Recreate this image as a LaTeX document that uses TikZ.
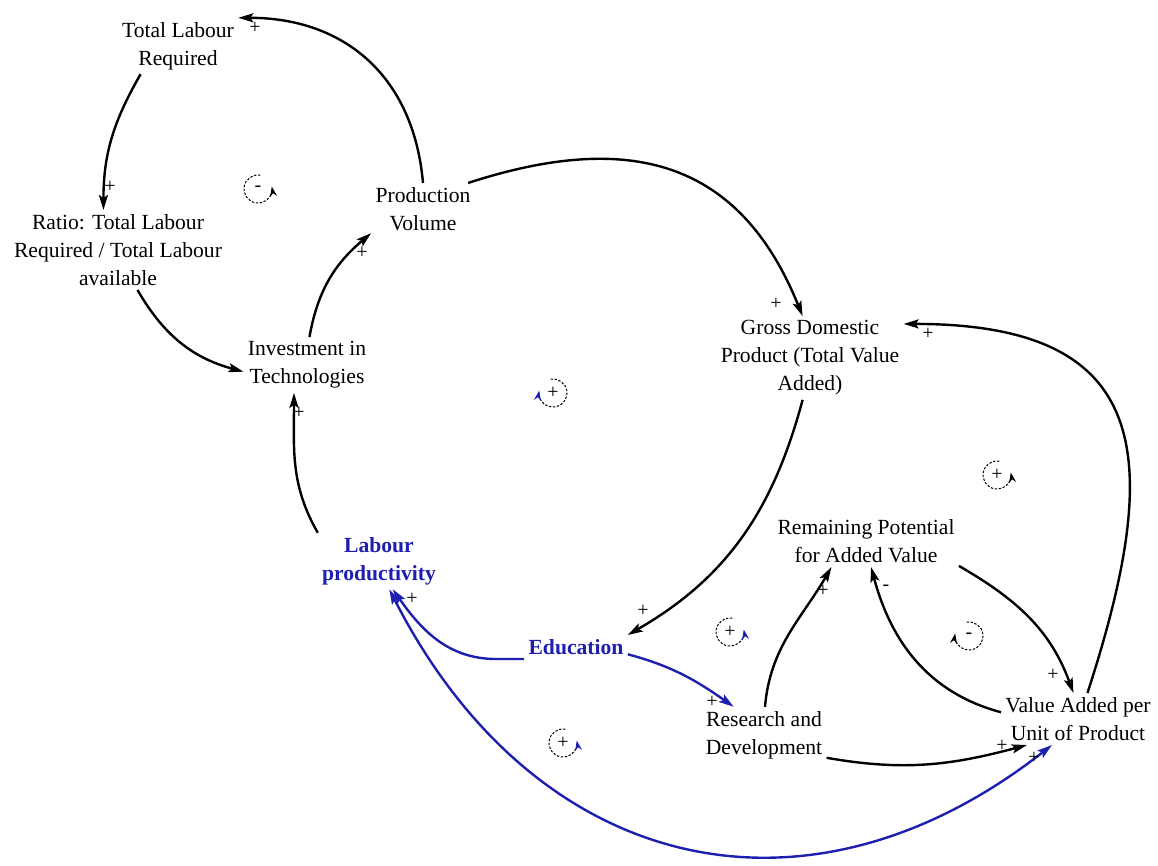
\documentclass[tikz,border=0pt]{standalone}
\usepackage{fontspec}
\setmainfont{Liberation Serif}
\usepackage{tikz}
\usetikzlibrary{arrows.meta}
\usepackage{xcolor}
\definecolor{lpblue}{RGB}{30,30,175}

\tikzset{
  var/.style={align=center, inner sep=2pt, font=\fontsize{10.8}{14}\selectfont},
  keyvar/.style={var, text=lpblue, font=\fontsize{10.8}{14}\selectfont\bfseries},
  link/.style={line width=1.2pt, -{Stealth[length=7.5pt,width=4.5pt,inset=1.5pt]}},
  blink/.style={link, draw=lpblue},
  pol/.style={inner sep=0pt, font=\fontsize{10}{10}\selectfont},
  loopc/.style={dash pattern=on 1.2pt off 0.8pt, line width=0.5pt},
}

\begin{document}
\begin{tikzpicture}[x=0.5pt, y=0.5pt]
    \useasboundingbox (0,0) rectangle (1158,-866);

    % Variables
    \node[var] (tlr) at (178,-46) {Total Labour\\Required};
    \node[var] (ratio) at (118,-250) {Ratio: Total Labour\\Required / Total Labour\\available};
    \node[var] (pv) at (423,-209) {Production\\Volume};
    \node[var] (inv) at (307,-365) {Investment in\\Technologies};
    \node[var] (gdp) at (810,-358) {Gross Domestic\\Product (Total Value\\Added)};
    \node[keyvar] (lp) at (379,-561) {Labour\\productivity};
    \node[keyvar] (edu) at (576,-647) {Education};
    \node[var] (rp) at (866,-541) {Remaining Potential\\for Added Value};
    \node[var] (rd) at (764,-735) {Research and\\Development};
    \node[var] (va) at (1078,-719) {Value Added per\\Unit of Product};

    % Causal links
    \draw[link] (pv.north) to[out=95, in=0, looseness=1.1] (tlr.north east);
    \draw[link] (tlr.217) to[out=240, in=90] (ratio.110);
    \draw[link] (ratio.296) to[out=-60, in=165] (inv.186);
    \draw[link] (inv.85) to[out=80, in=220] (pv.205);
    \draw[link] (pv.30) to[out=18, in=112, looseness=1.2] (gdp.100);
    \draw[link] (gdp.260) to[out=255, in=30] (edu.north east);
    \draw[link] (va.70) to[out=72, in=0, looseness=1.55] (gdp.20);
    \draw[link] (lp.north west) to[out=120, in=270] (inv.245);
    \draw[blink] (edu.south west) -- ++(-28,0) to[out=180, in=305] (lp.296);
    \draw[blink] (edu.-8) to[out=-15, in=145] (rd.137);
    \draw[link] (rd.88) to[out=85, in=240] (rp.217);
    \draw[link] (va.175) to[out=165, in=285] (rp.281);
    \draw[link] (rp.-15) to[out=-30, in=110] (va.100);
    \draw[link] (rd.-20) to[out=-10, in=195] (va.207);
    \draw[blink, {Stealth[length=7.5pt,width=4.5pt,inset=1.5pt]}-{Stealth[length=7.5pt,width=4.5pt,inset=1.5pt]}]
        (lp.290) to[out=-63, in=218, looseness=1.19] (va.225);

    % Polarities
    \node[pol] (s1) at (255,-28) {+};
    \node[pol] (s2) at (110,-187) {+};
    \node[pol] (s3) at (362,-253) {+};
    \node[pol] (s4) at (776,-304) {+};
    \node[pol] (s5) at (643,-611) {+};
    \node[pol] (s6) at (928,-334) {+};
    \node[pol] (s7) at (299,-413) {+};
    \node[pol] (s8) at (412,-599) {+};
    \node[pol] (s9) at (712,-702) {+};
    \node[pol] (s10) at (823,-591) {+};
    \node[pol] (s11) at (886,-588) {-};
    \node[pol] (s12) at (1053,-675) {+};
    \node[pol] (s13) at (1002,-746) {+};
    \node[pol] (s14) at (1034,-758) {+};

    % Loop markers
    \node[pol] (l1) at (258,-189) {-};
    \draw[loopc, -{Stealth[length=5pt,width=3.5pt]}] (l1.center) ++(80:14) arc[start angle=80, end angle=370, radius=14];
    \node[pol] (l2) at (553,-393) {+};
    \draw[loopc, -{Stealth[length=5pt,width=3.5pt,color=lpblue]}] (l2.center) ++(100:14) arc[start angle=100, end angle=-190, radius=14];
    \node[pol] (l3) at (997,-475) {+};
    \draw[loopc, -{Stealth[length=5pt,width=3.5pt]}] (l3.center) ++(80:14) arc[start angle=80, end angle=370, radius=14];
    \node[pol] (l4) at (730,-632) {+};
    \draw[loopc, -{Stealth[length=5pt,width=3.5pt,color=lpblue]}] (l4.center) ++(80:14) arc[start angle=80, end angle=370, radius=14];
    \node[pol] (l5) at (969,-636) {-};
    \draw[loopc, -{Stealth[length=5pt,width=3.5pt]}] (l5.center) ++(100:14) arc[start angle=100, end angle=-190, radius=14];
    \node[pol] (l6) at (563,-743) {+};
    \draw[loopc, -{Stealth[length=5pt,width=3.5pt,color=lpblue]}] (l6.center) ++(80:14) arc[start angle=80, end angle=370, radius=14];
\end{tikzpicture}
\end{document}
